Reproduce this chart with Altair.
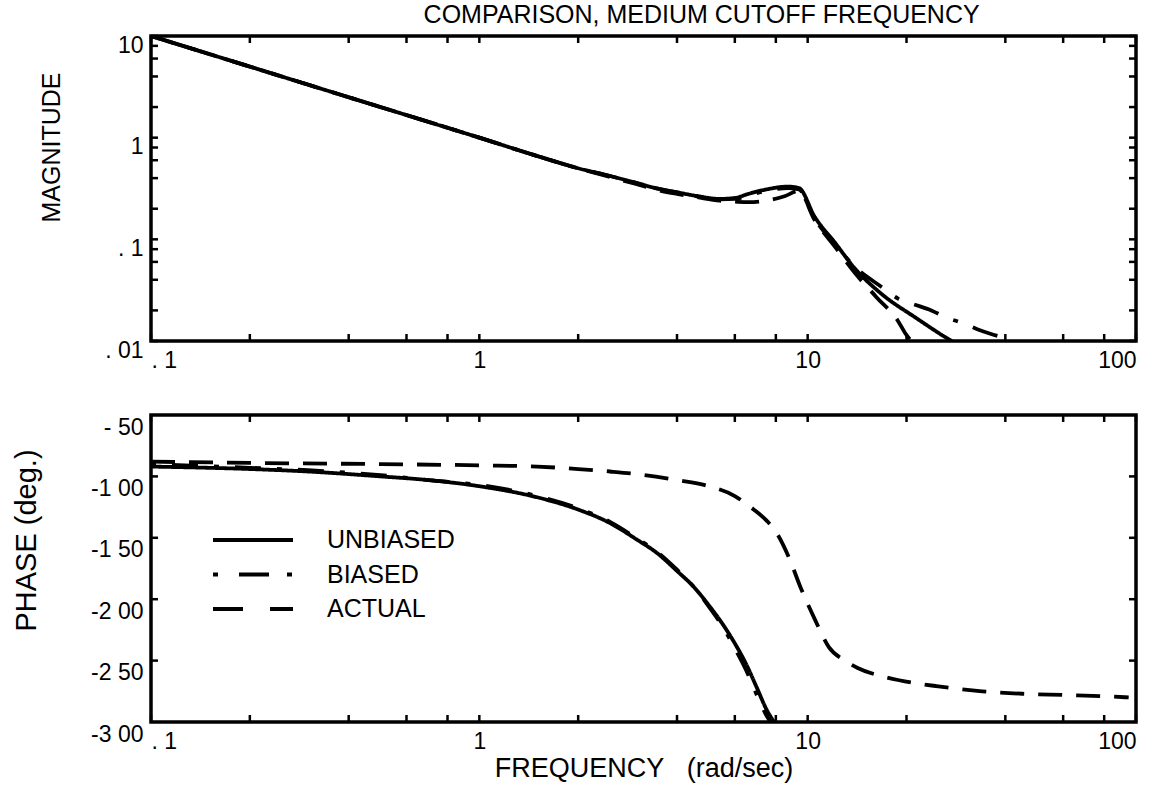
import altair as alt
import pandas as pd

FONT = "Liberation Sans"
SERIES = ["UNBIASED", "BIASED", "ACTUAL"]
DASHES = [[1, 0], [5, 16, 26, 16], [24, 14]]
KEY_DASHES = [[1, 0], [5, 21, 30, 18, 5, 20], [30, 27, 30, 20]]

# ---- magnitude (log-log) ----
mag_unb_w = [0.1, 0.2, 0.3, 0.5, 0.7, 1.0, 1.5, 2.0, 2.5, 3.0, 3.5, 4.0, 4.6, 5.4, 6.0, 6.6, 7.5, 8.7, 9.4,
             10.5, 12.1, 13.9, 16.8, 21.3, 26.9, 30.0]
mag_unb = [10, 5.0, 3.33, 2.0, 1.43, 1.0, 0.66, 0.5, 0.42, 0.36, 0.315, 0.29, 0.267, 0.25, 0.255, 0.28, 0.31,
           0.33, 0.32, 0.167, 0.093, 0.052, 0.029, 0.017, 0.0104, 0.0085]

mag_bia_w = [0.1, 0.2, 0.3, 0.5, 0.7, 1.0, 1.5, 2.0, 2.5, 3.0, 3.5, 4.0, 4.6, 5.4, 6.0, 6.6, 7.5, 8.7, 9.4,
             10.5, 12.1, 13.9, 16.8, 18.9, 21.0, 23.8, 26.5, 29.8, 33.0, 36.0, 38.0]
mag_bia = [10, 5.0, 3.33, 2.0, 1.43, 1.0, 0.66, 0.5, 0.42, 0.36, 0.315, 0.29, 0.265, 0.248, 0.25, 0.27, 0.30,
           0.32, 0.31, 0.16, 0.09, 0.054, 0.034, 0.026, 0.023, 0.020, 0.017, 0.0149, 0.013, 0.0118, 0.0112]

mag_act_w = [0.1, 0.2, 0.3, 0.5, 0.7, 1.0, 1.5, 2.0, 2.5, 3.0, 3.5, 4.0, 4.6, 5.4, 6.0, 6.6, 7.5, 8.5, 9.4,
             10.5, 12.1, 13.9, 16.2, 18.9, 19.8, 21.0]
mag_act = [10, 5.0, 3.33, 2.0, 1.43, 1.0, 0.66, 0.5, 0.41, 0.35, 0.305, 0.28, 0.26, 0.24, 0.235, 0.232, 0.24,
           0.265, 0.30, 0.155, 0.085, 0.047, 0.027, 0.0155, 0.012, 0.0095]

# ---- phase (deg.) ----
ph_unb_w = [0.1, 0.2, 0.3, 0.5, 0.7, 1.0, 1.5, 2.0, 2.5, 3.0, 3.5, 4.0, 4.5, 5.0, 5.5, 6.0, 6.5, 7.0, 7.5, 8.0]
ph_unb = [-92, -94, -96, -100, -103, -108, -117, -127, -138, -151, -163, -177, -190, -205, -220, -236, -253,
          -272, -290, -302]

ph_bia_w = [0.1, 0.2, 0.3, 0.5, 0.7, 1.0, 1.5, 2.0, 2.5, 3.0, 3.5, 4.0, 4.5, 5.0, 5.5, 6.0, 6.5, 7.0, 7.5, 7.8]
ph_bia = [-90, -93, -95, -99, -103, -107, -116, -126, -137, -150, -162, -176, -190, -206, -222, -240, -258,
          -278, -295, -302]

ph_act_w = [0.1, 0.2, 0.5, 1.0, 1.5, 2.0, 2.5, 3.0, 4.0, 5.0, 6.0, 6.7, 7.5, 8.0, 8.8, 9.5, 10.5, 11.6, 13.0,
            14.2, 17.0, 19.0, 25.0, 34.0, 45.0, 60.0, 80.0, 95.0]
ph_act = [-88, -89, -90, -91, -92, -94, -96, -98, -103, -108, -116, -125, -136, -145, -167, -190, -216, -239,
          -250, -256, -263, -266, -271, -275, -277, -278, -279, -280]

# ---- tick positions ----
x_ticks = [0.1, 0.2, 0.4, 0.6, 0.8, 1, 2, 4, 6, 8, 10, 20, 40, 60, 80, 100]
mag_ticks = [0.01, 0.02, 0.04, 0.06, 0.08, 0.1, 0.2, 0.4, 0.6, 0.8, 1, 2, 4, 6, 8, 10]
ph_ticks = [-250, -200, -150, -100]
x_labels = [0.1, 1, 10, 100]
mag_labels = [0.01, 0.1, 1, 10]
ph_labels = [-300, -250, -200, -150, -100, -50]


def long_table(pairs):
    rows = []
    for name, ws, vs in pairs:
        for w, v in zip(ws, vs):
            rows.append({"w": w, "v": v, "series": name})
    return pd.DataFrame(rows)


mag_df = long_table([("UNBIASED", mag_unb_w, mag_unb), ("BIASED", mag_bia_w, mag_bia),
                     ("ACTUAL", mag_act_w, mag_act)])
ph_df = long_table([("UNBIASED", ph_unb_w, ph_unb), ("BIASED", ph_bia_w, ph_bia),
                    ("ACTUAL", ph_act_w, ph_act)])
key_df = pd.DataFrame({"series": SERIES})

W = 985
H1 = 305
H2 = 307
TICK = 7
LW = 3.8

x_scale = alt.Scale(type="log", domain=[0.1, 100], nice=False)
mag_scale = alt.Scale(type="log", domain=[0.01, 10], nice=False)
ph_scale = alt.Scale(domain=[-300, -50], nice=False, zero=False)

x_label_expr = ("datum.value < 0.5 ? '. 1' : datum.value < 5 ? '1' : "
                "datum.value < 50 ? '10' : '100'")
mag_label_expr = ("datum.value > 5 ? '10' : datum.value > 0.5 ? '1' : "
                  "datum.value > 0.05 ? '. 1' : '. 01'")
ph_label_expr = ("datum.value == -50 ? '- 50' : '-' + floor(-datum.value / 100) + ' ' + "
                 "format(-datum.value % 100, '02d')")

axis_common = dict(ticks=False, domain=False, grid=False, labelFont=FONT, labelFontSize=23,
                   labelColor="black", titleFont=FONT, titleColor="black", titleFontWeight="normal")


def tick_layers(x_vals, y_vals, yscale, h):
    xt = pd.DataFrame({"t": x_vals})
    yt = pd.DataFrame({"t": y_vals})
    rule = dict(color="black", strokeWidth=2.5)
    bottom = alt.Chart(xt).mark_rule(**rule).encode(
        x=alt.X("t:Q", scale=x_scale), y=alt.value(h), y2=alt.value(h - TICK))
    top = alt.Chart(xt).mark_rule(**rule).encode(
        x=alt.X("t:Q", scale=x_scale), y=alt.value(0), y2=alt.value(TICK))
    left = alt.Chart(yt).mark_rule(**rule).encode(
        y=alt.Y("t:Q", scale=yscale), x=alt.value(0), x2=alt.value(TICK))
    right = alt.Chart(yt).mark_rule(**rule).encode(
        y=alt.Y("t:Q", scale=yscale), x=alt.value(W), x2=alt.value(W - TICK))
    return [bottom, top, left, right]


dash_scale = alt.Scale(domain=SERIES, range=DASHES)

mag_lines = alt.Chart(mag_df).mark_line(color="black", strokeWidth=LW, clip=True,
                                        interpolate="monotone").encode(
    x=alt.X("w:Q", scale=x_scale,
            axis=alt.Axis(values=x_labels, labelExpr=x_label_expr, labelPadding=8, title=None,
                          **axis_common)),
    y=alt.Y("v:Q", scale=mag_scale,
            axis=alt.Axis(values=mag_labels, labelExpr=mag_label_expr, labelPadding=8, labelOffset=9,
                          title="MAGNITUDE", titleFontSize=25, titleX=-100, titleY=111,
                          titleBaseline="middle", **axis_common)),
    strokeDash=alt.StrokeDash("series:N", scale=dash_scale, legend=None),
    detail="series:N",
)

ph_lines = alt.Chart(ph_df).mark_line(color="black", strokeWidth=LW, clip=True,
                                      interpolate="monotone").encode(
    x=alt.X("w:Q", scale=x_scale,
            axis=alt.Axis(values=x_labels, labelExpr=x_label_expr, labelPadding=8,
                          title="FREQUENCY\u00a0\u00a0\u00a0(rad/sec)", titleFontSize=27,
                          titlePadding=2, **axis_common)),
    y=alt.Y("v:Q", scale=ph_scale,
            axis=alt.Axis(values=ph_labels, labelExpr=ph_label_expr, labelPadding=8, labelOffset=12,
                          title="PHASE (deg.)", titleFontSize=29, titleX=-125, titleY=125,
                          titleBaseline="middle", **axis_common)),
    strokeDash=alt.StrokeDash("series:N", scale=dash_scale, legend=None),
    detail="series:N",
)

# key: one sample stroke and one label per series, stacked by a point scale
key_y = alt.Y("series:N", scale=alt.Scale(type="point", domain=SERIES, range=[125, 194], padding=0),
              axis=None)
key_lines = alt.Chart(key_df).mark_rule(color="black", strokeWidth=LW).encode(
    x=alt.value(62), x2=alt.value(142), y=key_y,
    strokeDash=alt.StrokeDash("series:N", scale=alt.Scale(domain=SERIES, range=KEY_DASHES),
                              legend=None),
)
key_text = alt.Chart(key_df).mark_text(align="left", baseline="middle", font=FONT, fontSize=25,
                                       color="black").encode(
    x=alt.value(176), y=key_y, text="series:N",
)
key = alt.layer(key_lines, key_text)

mag_panel = alt.layer(mag_lines, *tick_layers(x_ticks, mag_ticks, mag_scale, H1)).properties(
    width=W, height=H1)
ph_plot = alt.layer(ph_lines, *tick_layers(x_ticks, ph_ticks, ph_scale, H2))
ph_panel = alt.layer(ph_plot, key).resolve_scale(
    y="independent", strokeDash="independent"
).properties(width=W, height=H2)

chart = alt.vconcat(mag_panel, ph_panel, spacing=38).properties(
    title=alt.TitleParams("COMPARISON, MEDIUM CUTOFF FREQUENCY", font=FONT, fontSize=25,
                          fontWeight="normal", color="black", anchor="middle", dx=127, offset=4),
    padding={"left": 10, "top": 3, "right": 10, "bottom": 0},
    background="white",
).configure_view(stroke="black", strokeWidth=3.5)

chart.save("out.html", embed_options={"renderer": "svg", "actions": False})
